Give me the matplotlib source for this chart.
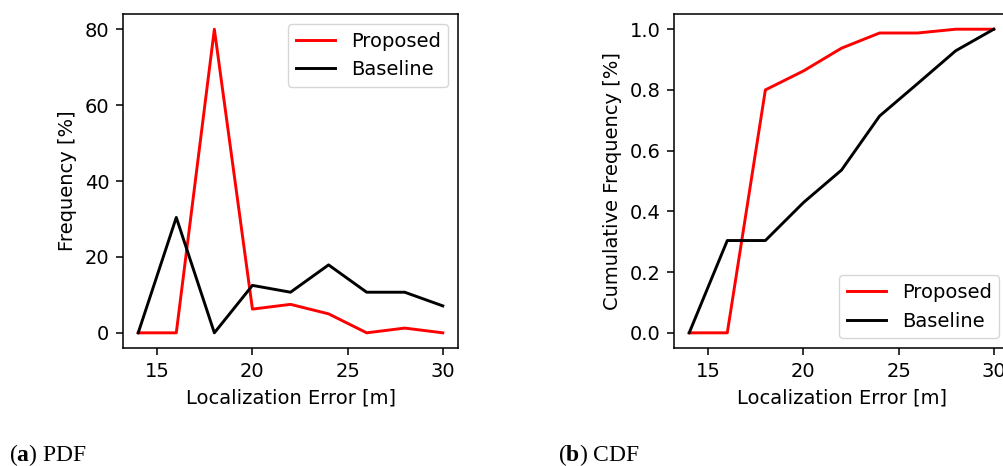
import matplotlib.pyplot as plt

# localization error bins [m]
error_bins = [14, 16, 18, 20, 22, 24, 26, 28, 30]

# probability density (in %)
pdf_proposed = [0.0, 0.0, 80.0, 6.25, 7.5, 5.0, 0.0, 1.25, 0.0]
pdf_baseline = [0.0, 30.4, 0.0, 12.5, 10.7, 17.9, 10.7, 10.7, 7.1]

# cumulative frequency
cdf_proposed = [0.0, 0.0, 0.80, 0.8625, 0.9375, 0.9875, 0.9875, 1.0, 1.0]
cdf_baseline = [0.0, 0.304, 0.304, 0.429, 0.536, 0.714, 0.821, 0.929, 1.0]

# default style, everything scaled up ~1.4x
s = 1.4
plt.rcParams.update({
    'font.size': 10 * s,
    'lines.linewidth': 1.5 * s,
    'axes.linewidth': 0.8 * s,
    'xtick.major.size': 3.5 * s,
    'ytick.major.size': 3.5 * s,
    'xtick.major.width': 0.8 * s,
    'ytick.major.width': 0.8 * s,
    'xtick.major.pad': 3.5 * s,
    'ytick.major.pad': 3.5 * s,
    'axes.labelpad': 4.0 * s,
})
# serif captions with a bold letter
plt.rcParams['mathtext.fontset'] = 'custom'
plt.rcParams['mathtext.rm'] = 'Liberation Serif'
plt.rcParams['mathtext.bf'] = 'Liberation Serif:bold'

fig = plt.figure(figsize=(10.04, 4.66), dpi=100)

# ---- (a) PDF ----
ax1 = fig.add_axes([0.1225, 0.2532, 0.3337, 0.7167])
ax1.plot(error_bins, pdf_proposed, color='red', label='Proposed')
ax1.plot(error_bins, pdf_baseline, color='black', label='Baseline')
ax1.set_xlabel('Localization Error [m]')
ax1.set_ylabel('Frequency [%]')
ax1.set_xticks([15, 20, 25, 30])
ax1.set_yticks([0, 20, 40, 60, 80])
ax1.legend(loc='upper right')

# ---- (b) CDF ----
ax2 = fig.add_axes([0.6713, 0.2532, 0.3337, 0.7167])
ax2.plot(error_bins, cdf_proposed, color='red', label='Proposed')
ax2.plot(error_bins, cdf_baseline, color='black', label='Baseline')
ax2.set_xlabel('Localization Error [m]')
ax2.set_ylabel('Cumulative Frequency [%]')
ax2.set_xticks([15, 20, 25, 30])
ax2.set_yticks([0.0, 0.2, 0.4, 0.6, 0.8, 1.0])
ax2.legend(loc='lower right')

# sub-figure captions
cap = dict(family='Liberation Serif', fontsize=17, va='center')
fig.text(0.009, 0.024, r'($\mathbf{a}$) PDF', **cap)
fig.text(0.556, 0.024, r'($\mathbf{b}$) CDF', **cap)

fig.savefig('out.png', dpi=100)
